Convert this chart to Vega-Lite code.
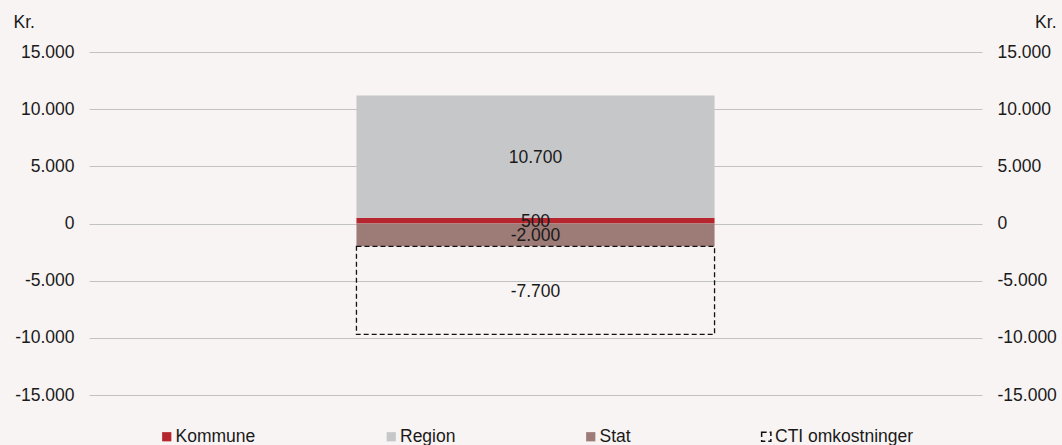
{
  "$schema": "https://vega.github.io/schema/vega-lite/v6.json",
  "width": 893,
  "height": 343,
  "autosize": {"type": "none"},
  "padding": {"left": 89, "top": 52, "right": 80, "bottom": 50},
  "background": "#f8f4f3",
  "config": {
    "font": "Liberation Sans",
    "view": {"stroke": null},
    "locale": {"number": {"decimal": ",", "thousands": ".", "grouping": [3], "currency": ["", " kr."], "minus": "-"}},
    "axis": {"labelFont": "Liberation Sans", "labelFontSize": 17.5, "labelColor": "#1a1a1a", "titleFont": "Liberation Sans", "titleFontSize": 17.5, "titleFontWeight": "normal", "titleColor": "#1a1a1a"}
  },
  "data": {
    "values": [
      {"gruppe": "A", "category": "Kommune", "value": 500, "order": 1},
      {"gruppe": "A", "category": "Region", "value": 10700, "order": 2},
      {"gruppe": "A", "category": "Stat", "value": -2000, "order": 3},
      {"gruppe": "A", "category": "CTI omkostninger", "value": -7700, "order": 4}
    ]
  },
  "transform": [
    {"stack": "value", "groupby": ["gruppe"], "sort": [{"field": "order", "order": "ascending"}], "as": ["v0", "v1"], "offset": "zero"},
    {"calculate": "(datum.v0 + datum.v1) / 2", "as": "mid"}
  ],
  "encoding": {
    "x": {"field": "gruppe", "type": "nominal", "axis": null, "scale": {"paddingInner": 0, "paddingOuter": 0}}
  },
  "layer": [
    {
      "mark": {"type": "bar", "width": {"band": 0.401}, "strokeWidth": 1.3},
      "encoding": {
        "y": {
          "field": "v0", "type": "quantitative",
          "scale": {"domain": [-15000, 15000], "nice": false, "zero": false},
          "axis": {"orient": "left", "title": "Kr.", "values": [-15000, -10000, -5000, 0, 5000, 10000, 15000], "format": ",d", "grid": true, "gridColor": "#c2c2c2", "gridWidth": 1, "domain": false, "ticks": false, "tickSize": 0, "labelPadding": 15, "titleAngle": 0, "titleAlign": "left", "titleBaseline": "alphabetic", "titleX": -76, "titleY": -25}
        },
        "y2": {"field": "v1"},
        "color": {
          "field": "category", "type": "nominal",
          "scale": {"domain": ["Kommune", "Region", "Stat", "CTI omkostninger"], "range": ["#b5262e", "#c6c7c9", "#9d7b77", "transparent"]},
          "legend": {
            "title": null, "orient": "none", "legendX": 69, "legendY": 376,
            "direction": "horizontal", "columns": 4, "gridAlign": "none", "columnPadding": 126.5,
            "symbolType": "square", "symbolSize": 85, "labelOffset": 0, "padding": 0,
            "labelFont": "Liberation Sans", "labelFontSize": 17.5, "labelColor": "#1a1a1a"
          }
        },
        "stroke": {
          "field": "category", "type": "nominal",
          "scale": {"domain": ["Kommune", "Region", "Stat", "CTI omkostninger"], "range": ["transparent", "transparent", "transparent", "#111111"]}
        },
        "strokeDash": {
          "field": "category", "type": "nominal",
          "scale": {"domain": ["Kommune", "Region", "Stat", "CTI omkostninger"], "range": [[1, 0], [1, 0], [1, 0], [5, 3]]}
        }
      }
    },
    {
      "mark": {"type": "text", "font": "Liberation Sans", "fontSize": 17.5, "color": "#1a1a1a", "baseline": "middle", "align": "center", "dy": 1.5},
      "encoding": {
        "y": {
          "field": "mid", "type": "quantitative",
          "axis": {"orient": "right", "title": "Kr.", "values": [-15000, -10000, -5000, 0, 5000, 10000, 15000], "format": ",d", "grid": false, "domain": false, "ticks": false, "tickSize": 0, "labelPadding": 15, "titleAngle": 0, "titleAlign": "right", "titleBaseline": "alphabetic", "titleX": 74, "titleY": -25}
        },
        "text": {"field": "value", "type": "quantitative", "format": ",d"}
      }
    }
  ],
  "resolve": {"axis": {"y": "independent"}}
}
